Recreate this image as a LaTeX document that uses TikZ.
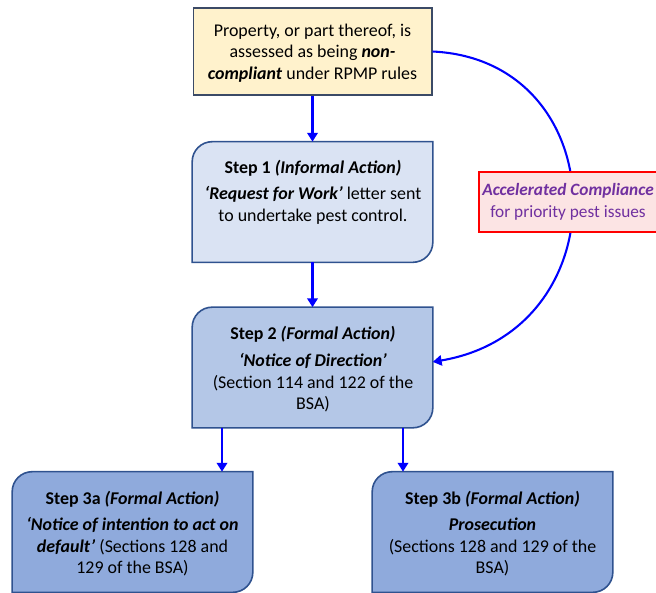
\documentclass[tikz,border=0pt]{standalone}
\usepackage{fontspec}
\setmainfont{Carlito}
\usetikzlibrary{arrows.meta,calc}
\definecolor{topfill}{HTML}{FFF2CC}
\definecolor{topline}{HTML}{3B4A66}
\definecolor{sonefill}{HTML}{DAE3F3}
\definecolor{stwofill}{HTML}{B4C7E7}
\definecolor{sthreefill}{HTML}{8FAADC}
\definecolor{stepline}{HTML}{2F528F}
\definecolor{accfill}{HTML}{FCE4E4}
\definecolor{accline}{HTML}{FF0000}
\definecolor{accpurple}{HTML}{7030A0}
\definecolor{arrblue}{HTML}{0000FF}
\newcommand{\stepoutline}[2]{%
  \draw[stepbox,fill=#2] ([yshift=-12.5pt]#1.north west) arc[start angle=180,end angle=90,radius=12.5pt]
    -- (#1.north east) -- ([yshift=12.5pt]#1.south east) arc[start angle=0,end angle=-90,radius=12.5pt]
    -- (#1.south west) -- cycle;}
\begin{document}
\begin{tikzpicture}[x=0.625pt,y=0.625pt,
  font=\fontsize{11.2}{13.6}\selectfont,
  boxarea/.style={inner sep=0pt,minimum width=150pt,minimum height=75pt},
  stepbox/.style={draw=stepline,line width=1pt},
  txt/.style={inner sep=0pt,align=center,text=black},
  arr/.style={draw=arrblue,line width=1.3pt,-{Triangle[width=6.5pt,length=5.5pt]}}]
\useasboundingbox (0,0) rectangle (656,-593);
\node[draw=topline,fill=topfill,line width=1pt,minimum width=149pt,minimum height=54.5pt,inner sep=0pt] (top) at (312.5,-51.5) {};
\node[txt,anchor=center] (toptxt) at (312.5,-53) {Property, or part thereof, is\\assessed as being \textbf{\textit{non-}}\\\textbf{\textit{compliant}} under RPMP rules};
\node[boxarea] (s1) at (312.5,-202) {};
\node[boxarea] (s2) at (312.5,-367.5) {};
\node[boxarea] (s3a) at (132.5,-532) {};
\node[boxarea] (s3b) at (492.5,-532) {};
\stepoutline{s1}{sonefill}
\stepoutline{s2}{stwofill}
\stepoutline{s3a}{sthreefill}
\stepoutline{s3b}{sthreefill}
\node[txt,anchor=north] (s1txt) at (313,-160) {\textbf{Step 1 \textit{(Informal Action)}}\\[2.5pt]\textbf{\textit{‘Request for Work’}} letter sent\\to undertake pest control.};
\node[txt,anchor=north] (s2txt) at (313,-325.5) {\textbf{Step 2 \textit{(Formal Action)}}\\[3.5pt]\textbf{\textit{‘Notice of Direction’}}\\(Section 114 and 122 of the\\BSA)};
\node[txt,anchor=north] (s3atxt) at (132.5,-491) {\textbf{Step 3a \textit{(Formal Action)}}\\[2.5pt]\textbf{\textit{‘Notice of intention to act on}}\\\textbf{\textit{default’}} (Sections 128 and\\129 of the BSA)};
\node[txt,anchor=north] (s3btxt) at (492.5,-491) {\textbf{Step 3b \textit{(Formal Action)}}\\[2.5pt]\textbf{\textit{Prosecution}}\\(Sections 128 and 129 of the\\BSA)};
% connectors
\draw[arr] (top.south) -- (s1.north);
\draw[arr] (s1.south) -- (s2.north);
\coordinate (xa) at (222,0);
\coordinate (xb) at (403,0);
\draw[arr] (s2.south -| xa) -- (xa |- s3a.north);
\draw[arr] (s2.south -| xb) -- (xb |- s3b.north);
\draw[arr] (top.east) .. controls (615,-60) and (622,-330) .. ([yshift=3.5pt]s2.east);
% accelerated box
\node[draw=accline,fill=accfill,line width=1pt,minimum width=125pt,minimum height=37.5pt,inner sep=0pt,anchor=west] (acc) at (478,-202) {};
\node[txt,text=accpurple,font=\fontsize{10.8}{13.4}\selectfont] (acctxt) at (568,-202) {\textbf{\textit{Accelerated Compliance}}\\for priority pest issues};
\end{tikzpicture}
\end{document}
